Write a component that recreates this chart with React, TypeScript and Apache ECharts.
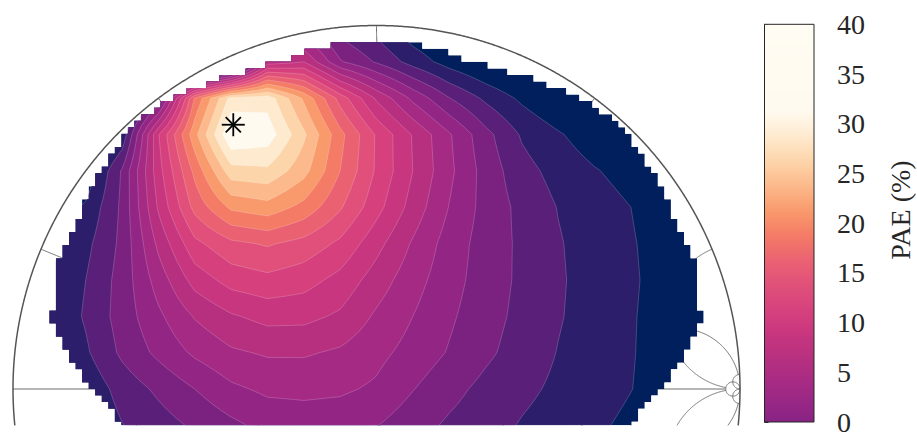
import React, { useEffect, useRef } from "react";
import * as echarts from "echarts";

// Load reflection coefficients (real / imaginary part of Γ) of the PAE sample grid
const gammaRe = [-1.0, -0.9, -0.8, -0.7, -0.6, -0.5, -0.4, -0.3, -0.2, -0.1, 0.0, 0.1, 0.2, 0.3, 0.4, 0.5, 0.6, 0.7, 0.8, 0.9, 1.0];
const gammaIm = [-0.1, 0.0, 0.1, 0.2, 0.3, 0.4, 0.5, 0.6, 0.7, 0.8, 0.9, 1.0];

// PAE (%) along each row of constant Im(Γ), from Re(Γ) = -1 to +1
const paeImM01 = [-12, -10.5, -7.5, -5.1, -3.6, -2.1, -0.6, 0.8, 1.2, 1.0, 0.1, -1.5, -2.9, -4.0, -5.2, -6.1, -7.1, -8.0, -9, -10, -11];
const paeIm00 = [-11, -9.5, -6.9, -4.0, -2.0, 0.0, 2.0, 3.0, 3.1, 2.9, 2.1, 0.1, -1.7, -3.2, -4.4, -5.5, -6.5, -7.45, -8.5, -9.5, -10.5];
const paeIm01 = [-10, -8, -5.4, -2.0, 0.6, 2.95, 4.6, 5.3, 5.3, 4.6, 3.2, 1.6, -0.2, -2.0, -3.6, -5.1, -6.2, -7.35, -8.5, -9.6, -10.7];
const paeIm02 = [-9.5, -7.2, -4.7, -1.4, 2.0, 5.2, 7.2, 8.3, 8.2, 7.1, 4.6, 2.5, 0.4, -1.5, -3.2, -4.8, -6.05, -7.3, -8.5, -9.6, -10.7];
const paeIm03 = [-9.5, -7.5, -5.0, -1.5, 3.6, 8.5, 11.0, 11.8, 11.0, 9.2, 6.3, 3.5, 1.0, -1.2, -3.0, -4.7, -6.0, -7.2, -8.4, -9.5, -10.5];
const paeIm04 = [-10, -8.3, -5.7, -1.9, 5.6, 11.85, 14.4, 15.3, 14.1, 12.0, 8.35, 4.7, 1.4, -1.1, -3.0, -4.8, -6.1, -7.3, -8.5, -9.7, -11];
const paeIm05 = [-11, -9.5, -7.1, -2.0, 7.85, 15.8, 20.5, 21.5, 19.2, 15.3, 10.9, 6.5, 2.4, -0.9, -3.2, -5.1, -6.3, -7.5, -8.8, -10, -11];
const paeIm06 = [-12, -11, -9.5, -2.2, 9.0, 18.2, 26.5, 27.0, 23.4, 17.5, 12.15, 7.5, 3.1, -1.0, -4.1, -5.9, -7.3, -8.5, -9.5, -10.5, -11.5];
const paeIm07 = [-15, -14, -12, -7.0, 9.8, 21.7, 32.5, 31.5, 25.5, 18.3, 12.2, 7.3, 2.8, -1.7, -5.3, -7.2, -9.0, -10.5, -12, -13, -14];
const paeIm08 = [-16, -15, -13, -10, -2.8, 17.8, 28.5, 29.0, 22.1, 14.0, 7.1, 1.9, -2.4, -5.5, -8.0, -10, -11.5, -13, -14, -15, -16];
const paeIm09 = [-20, -20, -20, -20, -20, -20, -15, 6, 7.5, 0.3, -2.8, -6.0, -8.6, -10.5, -12, -13, -14, -15, -16, -17, -18];
const paeIm10 = [-20, -20, -20, -20, -20, -16, -10, -6, 0, -4, -6.2, -9.5, -11, -12, -13, -14, -15, -16, -17, -18, -19];
const paeRows = [paeImM01, paeIm00, paeIm01, paeIm02, paeIm03, paeIm04, paeIm05, paeIm06, paeIm07, paeIm08, paeIm09, paeIm10];

// Filled-contour levels (%)
const contourLevels = [-7.5, -5, -2.5, 0, 2.5, 5, 7.5, 10, 12.5, 15, 17.5, 20, 22.5, 25, 27.5, 30];

// Colormap stops: PAE value -> colour
const cmapValues = [-8.75, -6.25, -3.75, -1.25, 1.25, 3.75, 6.25, 8.75, 11.25, 13.75, 16.25, 18.75, 21.25, 23.75, 26.25, 28.75, 31.25, 40];
const cmapColors = ["#001f5c", "#2d1e6b", "#5a1f78", "#7b2180", "#932585", "#a52a84", "#b6307f", "#c7367f", "#d6417d", "#e0507a", "#ea6272", "#f47b66", "#f99a6c", "#fcb98b", "#fdd5ab", "#feeacf", "#fffaef", "#fffcf3"];

// Colour bar range (%)
const colorbarMin = 0;
const colorbarMax = 40;
const colorbarStep = 5;

// Optimum load (maximum PAE)
const optimumGamma = [-0.394, 0.727];

// Outline of the measured load region: radius vs. angle from the real axis (folded about Im axis)
const domainAngles = [0, 12, 14, 18, 22, 30, 34, 40, 47, 53, 59, 67, 75, 84, 90];
const domainRadii = [0.92, 0.915, 0.916, 0.933, 0.946, 0.946, 0.96, 0.971, 0.984, 0.984, 0.966, 0.947, 0.94, 0.958, 0.955];
const domainLowerCentre = 0.6;
const domainLowerRadius = 0.985;
const domainCell = 0.018;

// Smith chart grid: constant-resistance circles and constant-reactance arcs with their drawn extent
const smithCircleR = [0.2, 0.5, 1, 2, 5, 50];
const smithCircleReach = [2, 2, 2, 5, 50, Infinity];
const smithArcX = [0.2, 0.5, 1, 2, 5, 50];
const smithArcReach = [1, 2, 5, 5, 50, Infinity];

type Pt = [number, number];

function hexToRgb(h: string) {
  const n = parseInt(h.slice(1), 16);
  return [(n >> 16) & 255, (n >> 8) & 255, n & 255];
}

function cmap(v: number): string {
  if (v <= cmapValues[0]) return cmapColors[0];
  const last = cmapValues.length - 1;
  if (v >= cmapValues[last]) return cmapColors[last];
  let i = 0;
  while (v > cmapValues[i + 1]) i++;
  const t = (v - cmapValues[i]) / (cmapValues[i + 1] - cmapValues[i]);
  const a = hexToRgb(cmapColors[i]);
  const b = hexToRgb(cmapColors[i + 1]);
  const c = a.map((x, k) => Math.round(x + (b[k] - x) * t));
  return `rgb(${c[0]},${c[1]},${c[2]})`;
}

// colour of each band: below the first level, between levels, above the last
const bandColors = (() => {
  const n = contourLevels.length;
  const out: string[] = [];
  for (let k = 0; k <= n; k++) {
    let mid;
    if (k === 0) mid = contourLevels[0] - 1.25;
    else if (k === n) mid = contourLevels[n - 1] + 1.25;
    else mid = (contourLevels[k - 1] + contourLevels[k]) / 2;
    out.push(cmap(mid));
  }
  return out;
})();

const REFINE = 4;
const PAD_VALUE = -1000;

// Bilinear refinement of the sample grid, padded with a low border so every level set closes
function buildField() {
  const nxC = gammaRe.length;
  const nyC = gammaIm.length;
  const nx = (nxC - 1) * REFINE + 1;
  const ny = (nyC - 1) * REFINE + 1;
  const idx = (len: number, k: number) => {
    const u = k / REFINE;
    const i0 = Math.min(Math.floor(u), len - 2);
    return [i0, u - i0];
  };
  const xs: number[] = [];
  const ys: number[] = [];
  const xI: number[][] = [];
  const yI: number[][] = [];
  for (let i = 0; i < nx; i++) {
    const [i0, t] = idx(nxC, i);
    xI.push([i0, t]);
    xs.push(gammaRe[i0] + t * (gammaRe[i0 + 1] - gammaRe[i0]));
  }
  for (let j = 0; j < ny; j++) {
    const [j0, t] = idx(nyC, j);
    yI.push([j0, t]);
    ys.push(gammaIm[j0] + t * (gammaIm[j0 + 1] - gammaIm[j0]));
  }
  const hx = xs[1] - xs[0];
  const hy = ys[1] - ys[0];
  const px = [xs[0] - hx, ...xs, xs[nx - 1] + hx];
  const py = [ys[0] - hy, ...ys, ys[ny - 1] + hy];
  const v: number[][] = [];
  for (let j = 0; j < ny + 2; j++) {
    const row: number[] = [];
    for (let i = 0; i < nx + 2; i++) {
      if (j === 0 || i === 0 || j === ny + 1 || i === nx + 1) {
        row.push(PAD_VALUE);
        continue;
      }
      const [j0, ty] = yI[j - 1];
      const [i0, tx] = xI[i - 1];
      const a = paeRows[j0][i0];
      const b = paeRows[j0][i0 + 1];
      const c = paeRows[j0 + 1][i0];
      const d = paeRows[j0 + 1][i0 + 1];
      row.push((a * (1 - tx) + b * tx) * (1 - ty) + (c * (1 - tx) + d * tx) * ty);
    }
    v.push(row);
  }
  return { xs: px, ys: py, v };
}

// Marching squares: closed loops bounding {PAE >= level}, counter-clockwise
function levelLoops(field: { xs: number[]; ys: number[]; v: number[][] }, level: number): Pt[][] {
  const { xs, ys, v } = field;
  const nx = xs.length;
  const ny = ys.length;
  const segs = new Map<string, { end: string; p: Pt }>();
  const cross = (i1: number, j1: number, i2: number, j2: number): Pt => {
    const a = v[j1][i1];
    const b = v[j2][i2];
    const t = (level - a) / (b - a);
    return [xs[i1] + t * (xs[i2] - xs[i1]), ys[j1] + t * (ys[j2] - ys[j1])];
  };
  for (let j = 0; j < ny - 1; j++) {
    for (let i = 0; i < nx - 1; i++) {
      const corners = [[i, j], [i + 1, j], [i + 1, j + 1], [i, j + 1]];
      const ins = corners.map(([ci, cj]) => v[cj][ci] >= level);
      const cnt = ins.filter(Boolean).length;
      if (cnt === 0 || cnt === 4) continue;
      const crs: { key: string; exit: boolean; p: Pt }[] = [];
      for (let e = 0; e < 4; e++) {
        const [pi, pj] = corners[e];
        const [qi, qj] = corners[(e + 1) % 4];
        const pin = ins[e];
        const qin = ins[(e + 1) % 4];
        if (pin === qin) continue;
        const lowFirst = pj < qj || (pj === qj && pi < qi);
        const [ai, aj, bi, bj] = lowFirst ? [pi, pj, qi, qj] : [qi, qj, pi, pj];
        crs.push({ key: `${ai},${aj},${bi},${bj}`, exit: pin && !qin, p: cross(ai, aj, bi, bj) });
      }
      if (crs.length === 2) {
        const ex = crs[0].exit ? crs[0] : crs[1];
        const en = crs[0].exit ? crs[1] : crs[0];
        segs.set(ex.key, { end: en.key, p: ex.p });
      } else if (crs.length === 4) {
        const centre = (v[j][i] + v[j][i + 1] + v[j + 1][i + 1] + v[j + 1][i]) / 4;
        for (let c = 0; c < 4; c++) {
          if (!crs[c].exit) continue;
          const partner = centre >= level ? crs[(c + 1) % 4] : crs[(c + 3) % 4];
          segs.set(crs[c].key, { end: partner.key, p: crs[c].p });
        }
      }
    }
  }
  const loops: Pt[][] = [];
  const used = new Set<string>();
  for (const k0 of segs.keys()) {
    if (used.has(k0)) continue;
    const pts: Pt[] = [];
    let k: string | undefined = k0;
    while (k !== undefined && !used.has(k)) {
      used.add(k);
      const s = segs.get(k);
      if (!s) break;
      pts.push(s.p);
      k = s.end;
    }
    if (pts.length > 2) loops.push(pts);
  }
  return loops;
}

function interp(xa: number[], ya: number[], x: number) {
  if (x <= xa[0]) return ya[0];
  for (let i = 0; i < xa.length - 1; i++) {
    if (x <= xa[i + 1]) {
      const t = (x - xa[i]) / (xa[i + 1] - xa[i]);
      return ya[i] + t * (ya[i + 1] - ya[i]);
    }
  }
  return ya[ya.length - 1];
}

function inDomain(x: number, y: number) {
  const r = Math.hypot(x, y);
  const ang = Math.max(0, (Math.atan2(y, Math.abs(x)) * 180) / Math.PI);
  return r <= interp(domainAngles, domainRadii, ang) && Math.hypot(x, y - domainLowerCentre) <= domainLowerRadius;
}

// Stair-stepped outline of the measured cells
function buildDomainOutline(ymin: number): Pt[] {
  const s = domainCell;
  const rows: { y0: number; y1: number; xl: number; xr: number }[] = [];
  for (let m = Math.floor(ymin / s); m * s < 1; m++) {
    if ((m + 1) * s <= ymin) continue;
    const yc = (m + 0.5) * s;
    let kmin: number | null = null;
    let kmax: number | null = null;
    for (let k = -70; k < 70; k++) {
      if (inDomain((k + 0.5) * s, yc)) {
        if (kmin === null) kmin = k;
        kmax = k;
      }
    }
    if (kmin !== null && kmax !== null) rows.push({ y0: Math.max(m * s, ymin), y1: (m + 1) * s, xl: kmin * s, xr: (kmax + 1) * s });
  }
  const pts: Pt[] = [];
  rows.forEach((r) => {
    pts.push([r.xr, r.y0], [r.xr, r.y1]);
  });
  for (let i = rows.length - 1; i >= 0; i--) {
    const r = rows[i];
    pts.push([r.xl, r.y1], [r.xl, r.y0]);
  }
  return pts;
}

function clipAbove(pts: Pt[], ymin: number): Pt[][] {
  const parts: Pt[][] = [];
  let cur: Pt[] = [];
  for (let i = 0; i < pts.length; i++) {
    const p = pts[i];
    const pin = p[1] >= ymin;
    if (i > 0) {
      const q = pts[i - 1];
      const qin = q[1] >= ymin;
      if (pin !== qin) {
        const t = (ymin - q[1]) / (p[1] - q[1]);
        cur.push([q[0] + t * (p[0] - q[0]), ymin]);
        if (!pin) {
          parts.push(cur);
          cur = [];
        }
      }
    }
    if (pin) cur.push(p);
  }
  if (cur.length > 1) parts.push(cur);
  return parts.filter((p) => p.length > 1);
}

function buildSmithPaths(ymin: number) {
  const outer: Pt[] = [];
  for (let i = 0; i <= 900; i++) {
    const th = -0.12 + ((Math.PI + 0.24) * i) / 900;
    outer.push([Math.cos(th), Math.sin(th)]);
  }
  const inner: Pt[][] = [];
  inner.push([[-1, 0], [49 / 51, 0]]);
  smithCircleR.forEach((R, n) => {
    const X = smithCircleReach[n];
    const bmax = X === Infinity ? Math.PI / 2 - 1e-4 : Math.atan(X / (R + 1));
    const pts: Pt[] = [];
    for (let i = 0; i <= 400; i++) {
      const b = -bmax + (2 * bmax * i) / 400;
      const c = Math.cos(b);
      pts.push([1 - (2 * c * c) / (R + 1), (2 * c * Math.sin(b)) / (R + 1)]);
    }
    inner.push(pts);
  });
  smithArcX.forEach((X, n) => {
    const Rm = smithArcReach[n];
    const p0 = Math.atan2(X, 1);
    const p1 = Rm === Infinity ? 1e-4 : Math.atan2(X, Rm + 1);
    [1, -1].forEach((sg) => {
      const pts: Pt[] = [];
      for (let i = 0; i <= 400; i++) {
        const p = p0 + ((p1 - p0) * i) / 400;
        const s = Math.sin(p);
        pts.push([1 - (2 * s * Math.cos(p)) / X, (sg * 2 * s * s) / X]);
      }
      inner.push(pts);
    });
  });
  return {
    outer: clipAbove(outer, ymin),
    inner: inner.flatMap((p) => clipAbove(p, ymin)),
  };
}

const field = buildField();
const loopsByLevel = contourLevels.map((L) => levelLoops(field, L));
const domainOutline = buildDomainOutline(gammaIm[0]);
const smithPaths = buildSmithPaths(gammaIm[0]);

function buildOption() {
  const colorStops: { offset: number; color: string }[] = [];
  for (let v = colorbarMin; v <= colorbarMax + 1e-9; v += 0.5) {
    colorStops.push({ offset: (v - colorbarMin) / (colorbarMax - colorbarMin), color: cmap(v) });
  }
  return {
    animation: false,
    grid: [
      { left: 13, top: 25.5, width: 727, height: 399.85, show: false },
      { left: 764.5, top: 24.3, width: 49.5, height: 401, show: false },
    ],
    xAxis: [
      { type: "value", gridIndex: 0, min: -1, max: 1, show: false },
      { type: "value", gridIndex: 1, min: 0, max: 1, show: false },
    ],
    yAxis: [
      { type: "value", gridIndex: 0, min: gammaIm[0], max: 1, show: false },
      {
        type: "value",
        gridIndex: 1,
        min: colorbarMin,
        max: colorbarMax,
        interval: colorbarStep,
        position: "right",
        axisLine: { show: true, lineStyle: { color: "#262626", width: 1 } },
        axisTick: { show: true, inside: false, length: 4, lineStyle: { color: "#262626", width: 1 } },
        axisLabel: {
          show: true,
          margin: 23,
          color: "#262626",
          fontFamily: "Liberation Serif",
          fontSize: 28,
          showMinLabel: true,
          showMaxLabel: true,
        },
        splitLine: { show: false },
      },
    ],
    graphic: [
      {
        type: "text",
        x: 900,
        y: 210,
        rotation: Math.PI / 2,
        style: {
          text: "PAE (%)",
          font: '28px "Liberation Serif"',
          fill: "#262626",
          align: "center",
          verticalAlign: "middle",
          textAlign: "center",
          textVerticalAlign: "middle",
        },
      },
    ],
    series: [
      {
        type: "custom",
        name: "smith-grid",
        coordinateSystem: "cartesian2d",
        xAxisIndex: 0,
        yAxisIndex: 0,
        silent: true,
        z: 1,
        data: [[0, 0]],
        renderItem: (_params: any, api: any) => {
          const px = (p: Pt) => api.coord(p);
          const children: any[] = [];
          smithPaths.inner.forEach((pts) =>
            children.push({ type: "polyline", shape: { points: pts.map(px) }, style: { stroke: "#6e6e6e", lineWidth: 1, fill: "none" } })
          );
          smithPaths.outer.forEach((pts) =>
            children.push({ type: "polyline", shape: { points: pts.map(px) }, style: { stroke: "#555555", lineWidth: 1.5, fill: "none" } })
          );
          return { type: "group", children };
        },
      },
      {
        type: "custom",
        name: "PAE",
        coordinateSystem: "cartesian2d",
        xAxisIndex: 0,
        yAxisIndex: 0,
        silent: true,
        z: 2,
        data: [[0, 0]],
        renderItem: (_params: any, api: any) => {
          const px = (p: Pt) => api.coord(p);
          const clipPts = domainOutline.map(px);
          const children: any[] = [{ type: "polygon", shape: { points: clipPts }, style: { fill: bandColors[0] } }];
          loopsByLevel.forEach((loops, k) => {
            loops.forEach((loop) => {
              children.push({
                type: "polygon",
                shape: { points: loop.map(px) },
                style: { fill: bandColors[k + 1], stroke: "rgba(255,255,255,0.32)", lineWidth: 0.6 },
              });
            });
          });
          return { type: "group", children, clipPath: { type: "polygon", shape: { points: clipPts } } };
        },
      },
      {
        type: "custom",
        name: "optimum",
        coordinateSystem: "cartesian2d",
        xAxisIndex: 0,
        yAxisIndex: 0,
        silent: true,
        z: 3,
        data: [optimumGamma],
        renderItem: (_params: any, api: any) => {
          const [cx, cy] = api.coord([api.value(0), api.value(1)]);
          const st = { stroke: "#000000", lineWidth: 1.8 };
          const a = 11.5;
          const d = 7.6;
          return {
            type: "group",
            children: [
              { type: "line", shape: { x1: cx - a, y1: cy, x2: cx + a, y2: cy }, style: st },
              { type: "line", shape: { x1: cx, y1: cy - a, x2: cx, y2: cy + a }, style: st },
              { type: "line", shape: { x1: cx - d, y1: cy - d, x2: cx + d, y2: cy + d }, style: st },
              { type: "line", shape: { x1: cx - d, y1: cy + d, x2: cx + d, y2: cy - d }, style: st },
            ],
          };
        },
      },
      {
        type: "custom",
        name: "colorbar",
        coordinateSystem: "cartesian2d",
        xAxisIndex: 1,
        yAxisIndex: 1,
        silent: true,
        z: 2,
        data: [[0.5, (colorbarMin + colorbarMax) / 2]],
        renderItem: (_params: any, api: any) => {
          const p0 = api.coord([0, colorbarMin]);
          const p1 = api.coord([1, colorbarMax]);
          return {
            type: "rect",
            shape: { x: p0[0], y: p1[1], width: p1[0] - p0[0], height: p0[1] - p1[1] },
            style: {
              fill: new echarts.graphic.LinearGradient(0, 1, 0, 0, colorStops),
              stroke: "#262626",
              lineWidth: 1,
            },
          };
        },
      },
    ],
  };
}

export default function App() {
  const ref = useRef<HTMLDivElement>(null);
  useEffect(() => {
    if (!ref.current) return;
    const chart = echarts.init(ref.current, undefined, { renderer: "svg" });
    chart.setOption(buildOption() as any);
    return () => chart.dispose();
  }, []);
  return <div ref={ref} style={{ position: "fixed", left: 0, top: 0, width: 917, height: 436, background: "#ffffff" }} />;
}
